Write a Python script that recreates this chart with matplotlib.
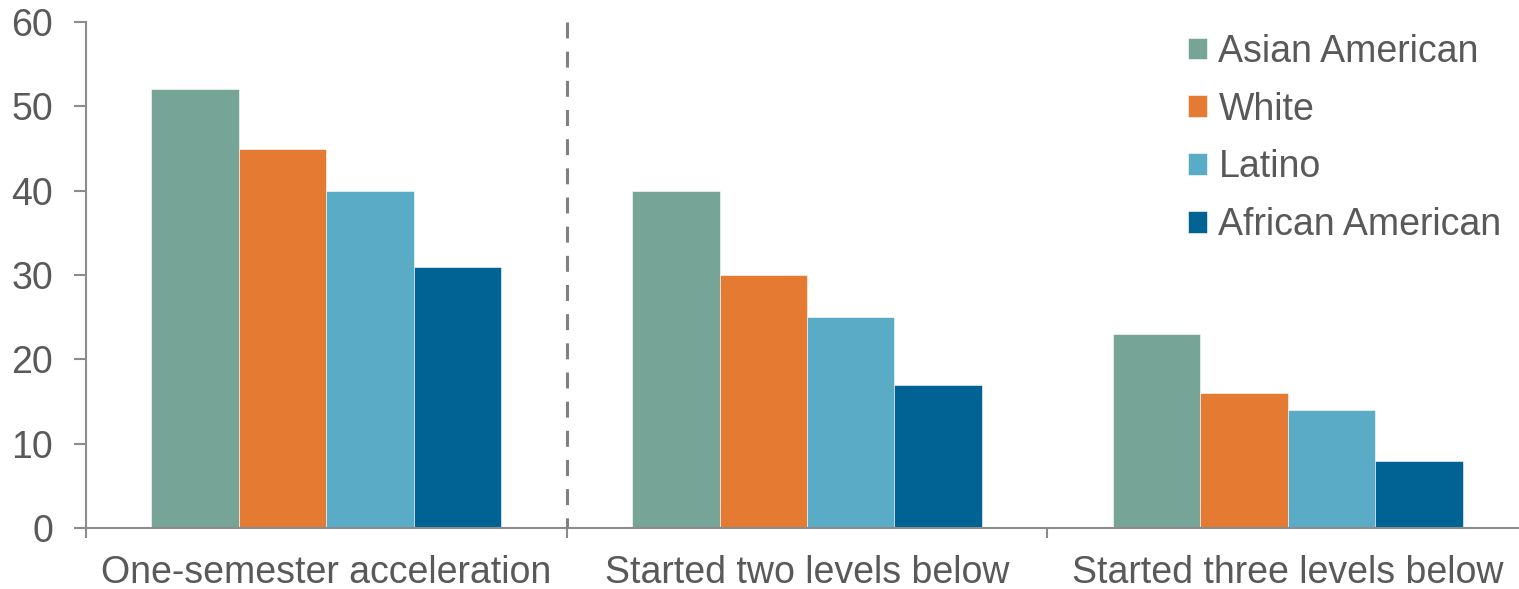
import numpy as np
import matplotlib.pyplot as plt

# Share of students completing, by starting level and group
categories = ["One-semester acceleration", "Started two levels below",
              "Started three levels below"]
groups = ["Asian American", "White", "Latino", "African American"]
asian_american = [52, 40, 23]
white = [45, 30, 16]
latino = [40, 25, 14]
african_american = [31, 17, 8]

colors = ["#76A597", "#E57A32", "#5AACC6", "#006394"]
text_color = "#595959"
axis_color = "#8C8C8C"

plt.rcParams["font.family"] = ["Liberation Sans", "DejaVu Sans"]

fig = plt.figure(figsize=(15.19, 5.89), dpi=100)
W, H = 1519, 589
ax = fig.add_axes([86 / W, (H - 528) / H, (1528 - 86) / W, (528 - 22) / H])

x = np.arange(len(categories))
width = 0.182
series = [asian_american, white, latino, african_american]
for i, (vals, name, c) in enumerate(zip(series, groups, colors)):
    ax.bar(x + (i - 1.5) * width, vals, width, color=c, label=name,
           edgecolor="white", linewidth=0.4)

ax.set_xlim(-0.5, 2.5)
ax.set_ylim(0, 60)
ax.set_yticks(range(0, 61, 10))

# dashed divider after the first group
ax.plot([0.5, 0.5], [60, 0], color="#808080", lw=2.2,
        dashes=(11.5 / 2.2, 9.5 / 2.2), zorder=3, clip_on=False)

fs = 27
ax.set_xticks(x)
ax.set_xticklabels(categories)
ax.set_xticks([-0.5, 0.5, 1.5, 2.5], minor=True)
ax.tick_params(axis="x", which="major", length=0, pad=19.5,
               labelsize=fs, labelcolor=text_color)
ax.tick_params(axis="x", which="minor", length=7.2, width=1.5,
               color=axis_color, direction="out")
ax.tick_params(axis="y", length=8.6, width=1.5, color=axis_color, pad=15,
               labelsize=fs, labelcolor=text_color)

for side in ["top", "right"]:
    ax.spines[side].set_visible(False)
for side in ["left", "bottom"]:
    ax.spines[side].set_color(axis_color)
    ax.spines[side].set_linewidth(1.5)

leg = ax.legend(loc="upper left", bbox_to_anchor=(1169 / W, 1 - 15 / H),
                bbox_transform=fig.transFigure, frameon=False,
                fontsize=fs, handlelength=0.52, handleheight=0.52,
                handletextpad=0.3, labelspacing=0.58, borderpad=0)
for t in leg.get_texts():
    t.set_color(text_color)

fig.savefig("out.png", dpi=100)
